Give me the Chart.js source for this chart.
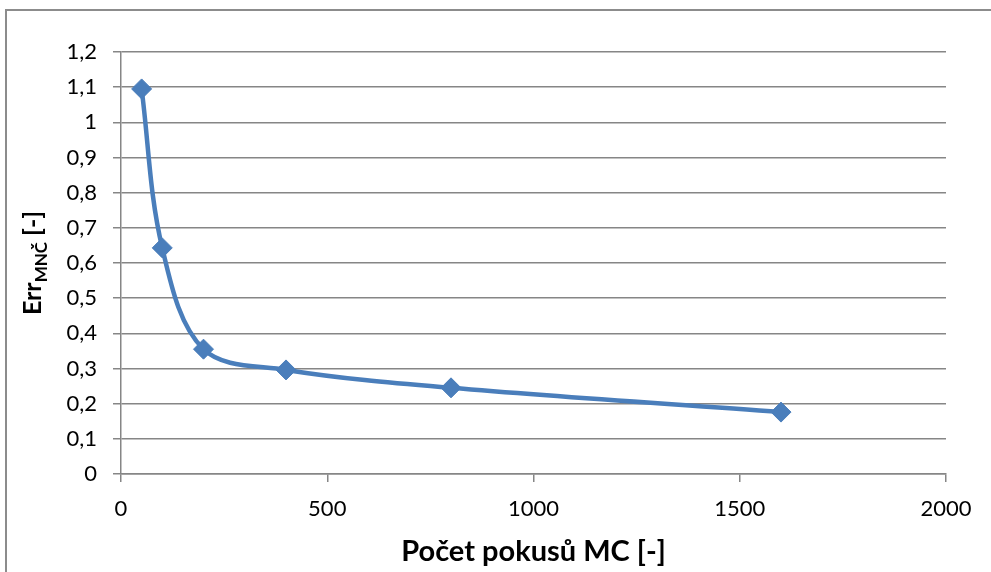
<!DOCTYPE html>
<html>
<head>
<meta charset="utf-8">
<script src="https://cdn.jsdelivr.net/npm/chart.js@4"></script>
<style>
  html, body { margin: 0; padding: 0; background: #fff; }
  #wrap { width: 991px; height: 572px; position: relative; }
</style>
</head>
<body>
<div id="wrap"><canvas id="c" width="991" height="572"></canvas></div>
<script>
// Number of Monte Carlo trials and the corresponding least-squares error
const trials = [50, 100, 200, 400, 800, 1600];
const errValues = [1.095, 0.643, 0.355, 0.296, 0.245, 0.176];

// Axis tick labels (Czech decimal comma)
const xTickLabels = ['0', '500', '1000', '1500', '2000'];
const yTickLabels = ['0', '0,1', '0,2', '0,3', '0,4', '0,5', '0,6', '0,7', '0,8', '0,9', '1', '1,1', '1,2'];

// Axis titles
const xTitle = 'Počet pokusů MC [-]';
const yTitleMain = 'Err';
const yTitleSub = 'MNČ';
const yTitleTail = ' [-]';

const FONT = 'Lato, "Open Sans", sans-serif';
const GRID = '#868686';
const BLUE = '#4a7ebb';

const framePlugin = {
  id: 'frame',
  beforeDraw(chart) {
    const ctx = chart.ctx;
    ctx.save();
    ctx.fillStyle = '#fff';
    ctx.fillRect(0, 0, chart.width, chart.height);
    ctx.strokeStyle = '#8c8c8c';
    ctx.lineWidth = 2;
    ctx.beginPath();
    ctx.moveTo(6, chart.height);
    ctx.lineTo(6, 10);
    ctx.lineTo(chart.width, 10);
    ctx.stroke();
    ctx.restore();
  },
  afterDraw(chart) {
    const ctx = chart.ctx;
    const a = chart.chartArea;
    ctx.save();
    ctx.fillStyle = '#000';
    // x axis title
    ctx.font = 'bold 29px ' + FONT;
    ctx.textAlign = 'center';
    ctx.textBaseline = 'alphabetic';
    ctx.fillText(xTitle, (a.left + a.right) / 2, 561);
    // y axis title, rotated, with subscript
    const big = 'bold 25px ' + FONT;
    const small = 'bold 17px ' + FONT;
    ctx.font = big;
    const w1 = ctx.measureText(yTitleMain).width;
    const w3 = ctx.measureText(yTitleTail).width;
    ctx.font = small;
    const w2 = ctx.measureText(yTitleSub).width;
    const total = w1 + w2 + w3;
    ctx.translate(41, (a.top + a.bottom) / 2);
    ctx.rotate(-Math.PI / 2);
    ctx.textAlign = 'left';
    let x = -total / 2;
    ctx.font = big;
    ctx.fillText(yTitleMain, x, 0);
    x += w1;
    ctx.font = small;
    ctx.fillText(yTitleSub, x, 6);
    x += w2;
    ctx.font = big;
    ctx.fillText(yTitleTail, x, 0);
    ctx.restore();
  }
};

new Chart(document.getElementById('c'), {
  type: 'line',
  data: {
    datasets: [{
      data: trials.map((t, i) => ({ x: t, y: errValues[i] })),
      borderColor: BLUE,
      backgroundColor: BLUE,
      borderWidth: 4.5,
      tension: 0.35,
      pointStyle: 'rectRot',
      pointRadius: 10,
      pointBorderWidth: 1,
      pointBorderColor: BLUE,
      pointBackgroundColor: BLUE,
      fill: false
    }]
  },
  options: {
    responsive: false,
    animation: false,
    devicePixelRatio: 1,
    layout: { padding: { top: 52, right: 45, left: 0, bottom: 0 } },
    plugins: { legend: { display: false }, tooltip: { enabled: false } },
    scales: {
      x: {
        type: 'linear',
        min: 0, max: 2000,
        ticks: {
          stepSize: 500,
          padding: 14,
          color: '#000',
          font: { family: FONT, size: 22 },
          maxRotation: 0,
          callback: (v, i) => xTickLabels[i]
        },
        grid: { drawOnChartArea: false, drawTicks: true, tickLength: 8, color: GRID, lineWidth: 1.5 },
        border: { color: GRID, width: 1.5 },
        afterFit(scale) { scale.height = 98; }
      },
      y: {
        type: 'linear',
        min: 0, max: 1.2,
        ticks: {
          stepSize: 0.1,
          padding: 16,
          color: '#000',
          font: { family: FONT, size: 22 },
          callback: (v, i) => yTickLabels[i]
        },
        grid: { drawOnChartArea: true, drawTicks: true, tickLength: 8, color: GRID, lineWidth: 1.5 },
        border: { color: GRID, width: 1.5 },
        afterFit(scale) { scale.width = 121; }
      }
    }
  },
  plugins: [framePlugin]
});
</script>
</body>
</html>
